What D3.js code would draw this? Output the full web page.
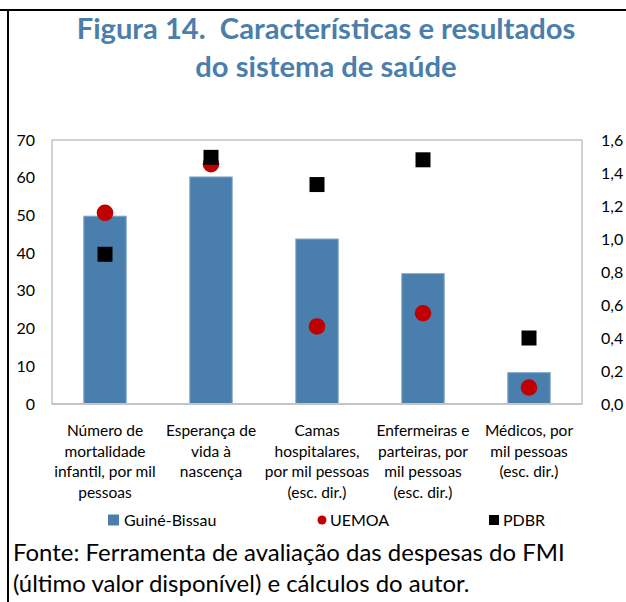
<!DOCTYPE html>
<html>
<head>
<meta charset="utf-8">
<script src="https://cdn.jsdelivr.net/npm/d3@7"></script>
<style>
  body { margin: 0; background: #fff; }
  svg { display: block; }
  text { font-family: Lato, "Open Sans", sans-serif; }
</style>
</head>
<body>
<svg id="chart" width="626" height="602"></svg>
<script>
// Health-system indicators: Guinea-Bissau vs. WAEMU average and comparator group
const categories = ["mortalidade", "esperanca", "camas", "enfermeiras", "medicos"];
const categoryLines = [
  ["Número de", "mortalidade", "infantil, por mil", "pessoas"],
  ["Esperança de", "vida à", "nascença"],
  ["Camas", "hospitalares,", "por mil pessoas", "(esc. dir.)"],
  ["Enfermeiras e", "parteiras, por", "mil pessoas", "(esc. dir.)"],
  ["Médicos, por", "mil pessoas", "(esc. dir.)"]
];
// which value axis each indicator is read against
const axisSide = ["left", "left", "right", "right", "right"];

const guineBissau = [49.8, 60.2, 1.00, 0.79, 0.19];
const uemoa       = [50.7, 63.6, 0.47, 0.55, 0.10];
const pdbr        = [39.7, 65.4, 1.33, 1.48, 0.40];

const leftTicks  = [0, 10, 20, 30, 40, 50, 60, 70];
const rightTicks = [0, 0.2, 0.4, 0.6, 0.8, 1.0, 1.2, 1.4, 1.6];

const seriesNames = ["Guiné-Bissau", "UEMOA", "PDBR"];
const titleLines = ["Figura 14.  Características e resultados", "do sistema de saúde"];
const sourceLines = [
  "Fonte: Ferramenta de avaliação das despesas do FMI",
  "(último valor disponível) e cálculos do autor."
];

const colors = { bar: "#4a7ead", barEdge: "#7fa7ca", uemoa: "#c00000", pdbr: "#000000", title: "#4a7eab", frame: "#c4c4c4" };

const svg = d3.select("#chart");
const W = 626, H = 602;
const plot = { left: 52, right: 582, top: 140, bottom: 404 };

const pt = d3.formatLocale({ decimal: ",", thousands: ".", grouping: [3], currency: ["", ""] });
const fmtRight = pt.format(".1f");

// outer frame: top rule and left rule
svg.append("line").attr("x1", 0).attr("x2", W).attr("y1", 10).attr("y2", 10)
  .attr("stroke", "#000").attr("stroke-width", 2);
svg.append("line").attr("x1", 8).attr("x2", 8).attr("y1", 10).attr("y2", H)
  .attr("stroke", "#000").attr("stroke-width", 2);

// scale a text element so that it spans a given width
function fitWidth(sel, width) {
  const node = sel.node();
  const base = parseFloat(sel.attr("font-size"));
  const len = node.getComputedTextLength();
  const size = base * width / len;
  sel.attr("font-size", size);
  return size;
}

// title
const t1 = svg.append("text").attr("x", 326).attr("y", 39).attr("text-anchor", "middle")
  .attr("font-size", 24).attr("font-weight", 700).attr("fill", colors.title)
  .style("white-space", "pre").text(titleLines[0]);
const titleSize = fitWidth(t1, 499);
svg.append("text").attr("x", 326).attr("y", 77).attr("text-anchor", "middle")
  .attr("font-size", titleSize).attr("font-weight", 700).attr("fill", colors.title)
  .text(titleLines[1]);

// scales
const x = d3.scaleBand().domain(categories).range([plot.left, plot.right])
  .paddingInner(0.6).paddingOuter(0.3);
const yL = d3.scaleLinear().domain([0, 70]).range([plot.bottom, plot.top]);
const yR = d3.scaleLinear().domain([0, 1.6]).range([plot.bottom, plot.top]);
const yFor = i => axisSide[i] === "left" ? yL : yR;

// plot frame
svg.append("rect").attr("x", plot.left).attr("y", plot.top)
  .attr("width", plot.right - plot.left).attr("height", plot.bottom - plot.top)
  .attr("fill", "none").attr("stroke", colors.frame).attr("stroke-width", 1.5);

// axes
const axL = svg.append("g").attr("transform", `translate(${plot.left},0)`)
  .call(d3.axisLeft(yL).tickValues(leftTicks).tickSize(0).tickPadding(17).tickFormat(d3.format("d")));
const axR = svg.append("g").attr("transform", `translate(${plot.right},0)`)
  .call(d3.axisRight(yR).tickValues(rightTicks).tickSize(0).tickPadding(19).tickFormat(fmtRight));
[axL, axR].forEach(g => {
  g.select(".domain").remove();
  g.selectAll("text").attr("font-family", "Lato, 'Open Sans', sans-serif")
    .attr("font-size", 16).attr("fill", "#000");
});

// bars
svg.append("g").selectAll("rect").data(guineBissau).join("rect")
  .attr("x", (d, i) => x(categories[i]))
  .attr("width", x.bandwidth())
  .attr("y", (d, i) => yFor(i)(d))
  .attr("height", (d, i) => plot.bottom - yFor(i)(d))
  .attr("fill", colors.bar).attr("stroke", colors.barEdge).attr("stroke-width", 1);

// bottom axis line drawn over the bar bases
svg.append("line").attr("x1", plot.left).attr("x2", plot.right)
  .attr("y1", plot.bottom).attr("y2", plot.bottom)
  .attr("stroke", colors.frame).attr("stroke-width", 2);

const cx = i => x(categories[i]) + x.bandwidth() / 2;

// UEMOA markers
svg.append("g").selectAll("circle").data(uemoa).join("circle")
  .attr("cx", (d, i) => cx(i)).attr("cy", (d, i) => yFor(i)(d)).attr("r", 8.3)
  .attr("fill", colors.uemoa);

// comparator-group markers
const sq = 15;
svg.append("g").selectAll("rect").data(pdbr).join("rect")
  .attr("x", (d, i) => cx(i) - sq / 2).attr("y", (d, i) => yFor(i)(d) - sq / 2)
  .attr("width", sq).attr("height", sq).attr("fill", colors.pdbr);

// category labels
const lab = svg.append("g").attr("font-size", 15.5).attr("text-anchor", "middle").attr("fill", "#000");
categoryLines.forEach((lines, i) => {
  const t = lab.append("text").attr("x", cx(i)).attr("y", 436);
  lines.forEach((ln, j) => t.append("tspan").attr("x", cx(i)).attr("dy", j === 0 ? 0 : 20.5).text(ln));
});

// legend
const leg = svg.append("g").attr("font-size", 16).attr("fill", "#000");
const legY = 520;
leg.append("rect").attr("x", 108).attr("y", legY - 5.5).attr("width", 11).attr("height", 11).attr("fill", colors.bar);
leg.append("text").attr("x", 124).attr("y", legY + 5.5).text(seriesNames[0]);
leg.append("circle").attr("cx", 322).attr("cy", legY).attr("r", 4.5).attr("fill", colors.uemoa);
leg.append("text").attr("x", 330).attr("y", legY + 5.5).text(seriesNames[1]);
leg.append("rect").attr("x", 489).attr("y", legY - 5).attr("width", 10).attr("height", 10).attr("fill", colors.pdbr);
leg.append("text").attr("x", 503).attr("y", legY + 5.5).text(seriesNames[2]);

// source note
const s1 = svg.append("text").attr("x", 13).attr("y", 561).attr("font-size", 22).attr("fill", "#000").text(sourceLines[0]);
const srcSize = fitWidth(s1, 552);
svg.append("text").attr("x", 13).attr("y", 592).attr("font-size", srcSize).attr("fill", "#000").text(sourceLines[1]);
</script>
</body>
</html>
